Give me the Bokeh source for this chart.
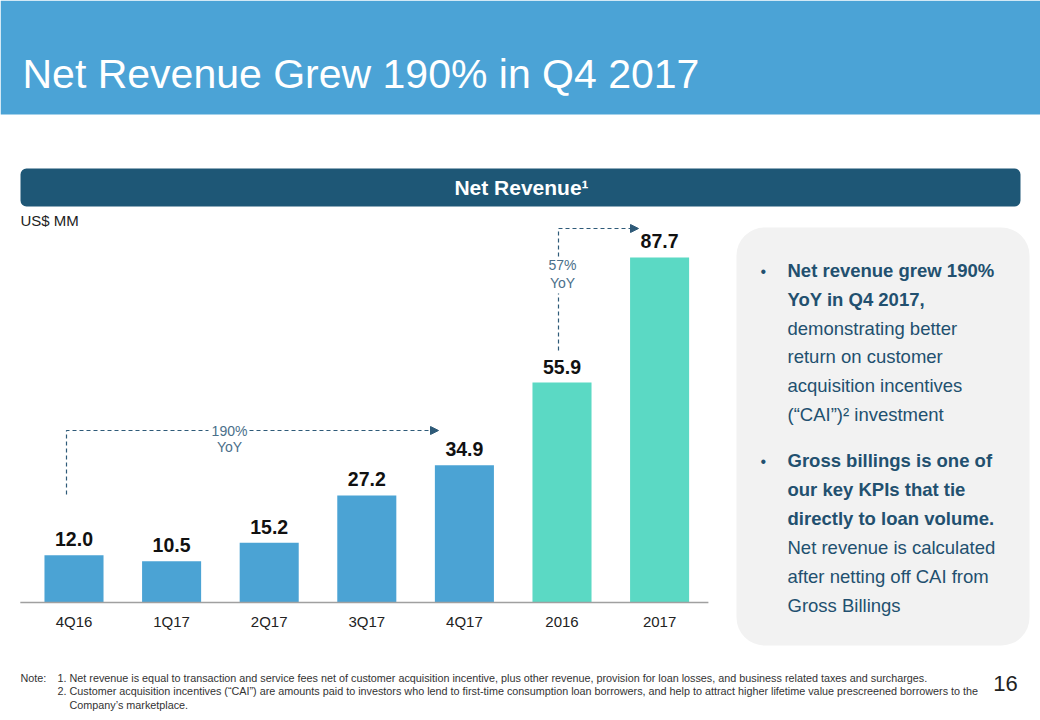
from bokeh.plotting import figure
from bokeh.models import Range1d, ColumnDataSource, Arrow, NormalHead
from bokeh.core.properties import value
from bokeh.embed import file_html
from bokeh.resources import INLINE

# ---------------- data ----------------
categories = ["4Q16", "1Q17", "2Q17", "3Q17", "4Q17", "2016", "2017"]
net_revenue = [12.0, 10.5, 15.2, 27.2, 34.9, 55.9, 87.7]
period_type = ["quarter", "quarter", "quarter", "quarter", "quarter", "year", "year"]

title_text = "Net Revenue Grew 190% in Q4 2017"
banner_text = "Net Revenue\u00b9"
unit_text = "US$ MM"
yoy_q_label = ["190%", "YoY"]
yoy_y_label = ["57%", "YoY"]

bullet1_lines = ["Net revenue grew 190%", "YoY in Q4 2017,", "demonstrating better",
                 "return on customer", "acquisition incentives", "(\u201cCAI\u201d)\u00b2 investment"]
bullet1_bold = [True, True, False, False, False, False]
bullet2_lines = ["Gross billings is one of", "our key KPIs that tie", "directly to loan volume.",
                 "Net revenue is calculated", "after netting off CAI from", "Gross Billings"]
bullet2_bold = [True, True, True, False, False, False]

note_lines = [
    "1. Net revenue is equal to transaction and service fees net of customer acquisition incentive, plus other revenue, provision for loan losses, and business related taxes and surcharges.",
    "2. Customer acquisition incentives (\u201cCAI\u201d) are amounts paid to investors who lend to first-time consumption loan borrowers, and help to attract higher lifetime value prescreened borrowers to the",
    "Company\u2019s marketplace.",
]
page_number = "16"

# ---------------- styles ----------------
FONT = value("Liberation Sans")
HEADER_BLUE = "#4BA3D6"
BAR_BLUE = "#4BA3D4"
BAR_TEAL = "#5BD9C4"
BANNER = "#1E5776"
BOX_BG = "#F2F2F2"
TEXT_BLUE = "#22506F"
ARROW_C = "#2E5A78"
YOY_C = "#4A6F8A"

W, H = 1040, 720
p = figure(width=W, height=H, x_range=Range1d(0, W), y_range=Range1d(H, 0),
           output_backend="svg", toolbar_location=None, min_border=0)
p.axis.visible = False
p.grid.visible = False
p.outline_line_color = None
p.background_fill_color = "white"
p.border_fill_color = "white"

# chart scales (categorical index -> x, value -> y)
px_per_cat = 97.6
first_center = 73.5
px_per_val = 3.934
baseline_px = 602.0
p.extra_x_ranges = {"cat": Range1d(-first_center / px_per_cat, (W - first_center) / px_per_cat)}
p.extra_y_ranges = {"val": Range1d(-(H - baseline_px) / px_per_val, baseline_px / px_per_val)}

# ---------------- header ----------------
p.quad(left=[0], right=[W], top=[0], bottom=[114], fill_color=HEADER_BLUE, line_color=None)
p.text(x=[22], y=[73], text=[title_text], text_font=FONT, text_font_size="41px",
       text_color="white", text_baseline="alphabetic", text_align="left")

# banner
p.quad(left=[20], right=[1020], top=[168], bottom=[206], fill_color=BANNER, line_color=None,
       border_radius=6)
p.text(x=[521], y=[187], text=[banner_text], text_font=FONT, text_font_size="21px",
       text_font_style="bold", text_color="white", text_baseline="middle", text_align="center")
p.text(x=[20], y=[220], text=[unit_text], text_font=FONT, text_font_size="15px",
       text_color="#222222", text_baseline="middle", text_align="left")

# ---------------- bars ----------------
idx = list(range(len(categories)))
colors = [BAR_BLUE if t == "quarter" else BAR_TEAL for t in period_type]
src = ColumnDataSource(dict(x=idx, top=net_revenue, color=colors, cat=categories,
                            lbl=[f"{v:.1f}" for v in net_revenue]))
p.vbar(x="x", top="top", bottom=0, width=0.605, fill_color="color", line_color=None,
       source=src, x_range_name="cat", y_range_name="val")
p.text(x="x", y="top", text="lbl", source=src, x_range_name="cat", y_range_name="val",
       text_font=FONT, text_font_size="19.5px", text_font_style="bold", text_color="#111111",
       text_align="center", text_baseline="middle", y_offset=-16)
# axis line and category labels
p.line(x=[-0.55, len(categories) - 0.5], y=[0, 0], x_range_name="cat", y_range_name="val",
       line_color="#A0A0A0", line_width=1.5)
p.text(x="x", y=0, text="cat", source=src, x_range_name="cat", y_range_name="val",
       text_font=FONT, text_font_size="15px", text_color="#222222",
       text_align="center", text_baseline="middle", y_offset=19)

# ---------------- YoY arrows ----------------
dash = "4 3"
p.line(x=[66, 66, 208], y=[494, 430, 430], line_color=ARROW_C, line_dash=dash, line_width=1.2)
p.line(x=[249, 432], y=[430, 430], line_color=ARROW_C, line_dash=dash, line_width=1.2)
p.add_layout(Arrow(x_start=428, y_start=430, x_end=438, y_end=430, line_alpha=0,
                   end=NormalHead(size=8, fill_color=ARROW_C, line_color=ARROW_C)))
p.text(x=[229, 229], y=[430, 446], text=yoy_q_label, text_font=FONT, text_font_size="14px",
       text_color=YOY_C, text_align="center", text_baseline="middle")

p.line(x=[558, 558], y=[350, 293], line_color=ARROW_C, line_dash=dash, line_width=1.2)
p.line(x=[558, 558, 632], y=[256, 228, 228], line_color=ARROW_C, line_dash=dash, line_width=1.2)
p.add_layout(Arrow(x_start=628, y_start=228, x_end=638, y_end=228, line_alpha=0,
                   end=NormalHead(size=8, fill_color=ARROW_C, line_color=ARROW_C)))
p.text(x=[562, 562], y=[264, 282], text=yoy_y_label, text_font=FONT, text_font_size="14px",
       text_color=YOY_C, text_align="center", text_baseline="middle")

# ---------------- side box ----------------
p.quad(left=[736], right=[1029], top=[227], bottom=[645], fill_color=BOX_BG, line_color=None,
       border_radius=28)
p.text(x=[760, 760], y=[271, 461], text=["\u2022", "\u2022"], text_font=FONT,
       text_font_size="16px", text_color=TEXT_BLUE, text_align="left", text_baseline="middle")


def draw_lines(lines, bold, y0, step):
    for i, (t, b) in enumerate(zip(lines, bold)):
        p.text(x=[787], y=[y0 + step * i], text=[t], text_font=FONT, text_font_size="18.5px",
               text_font_style="bold" if b else "normal", text_color=TEXT_BLUE,
               text_align="left", text_baseline="middle")


draw_lines(bullet1_lines, bullet1_bold, 270, 28.8)
draw_lines(bullet2_lines, bullet2_bold, 460, 29.0)

# ---------------- footer ----------------
p.text(x=[20], y=[677], text=["Note:"], text_font=FONT, text_font_size="10.8px",
       text_color="#333333", text_align="left", text_baseline="middle")
p.text(x=[57, 57, 69], y=[677, 690.5, 704], text=note_lines, text_font=FONT,
       text_font_size="10.8px", text_color="#333333", text_align="left", text_baseline="middle")
p.text(x=[1005], y=[683], text=[page_number], text_font=FONT, text_font_size="22px",
       text_color="#222222", text_align="center", text_baseline="middle")

open("out.html", "w").write(file_html(p, INLINE))
